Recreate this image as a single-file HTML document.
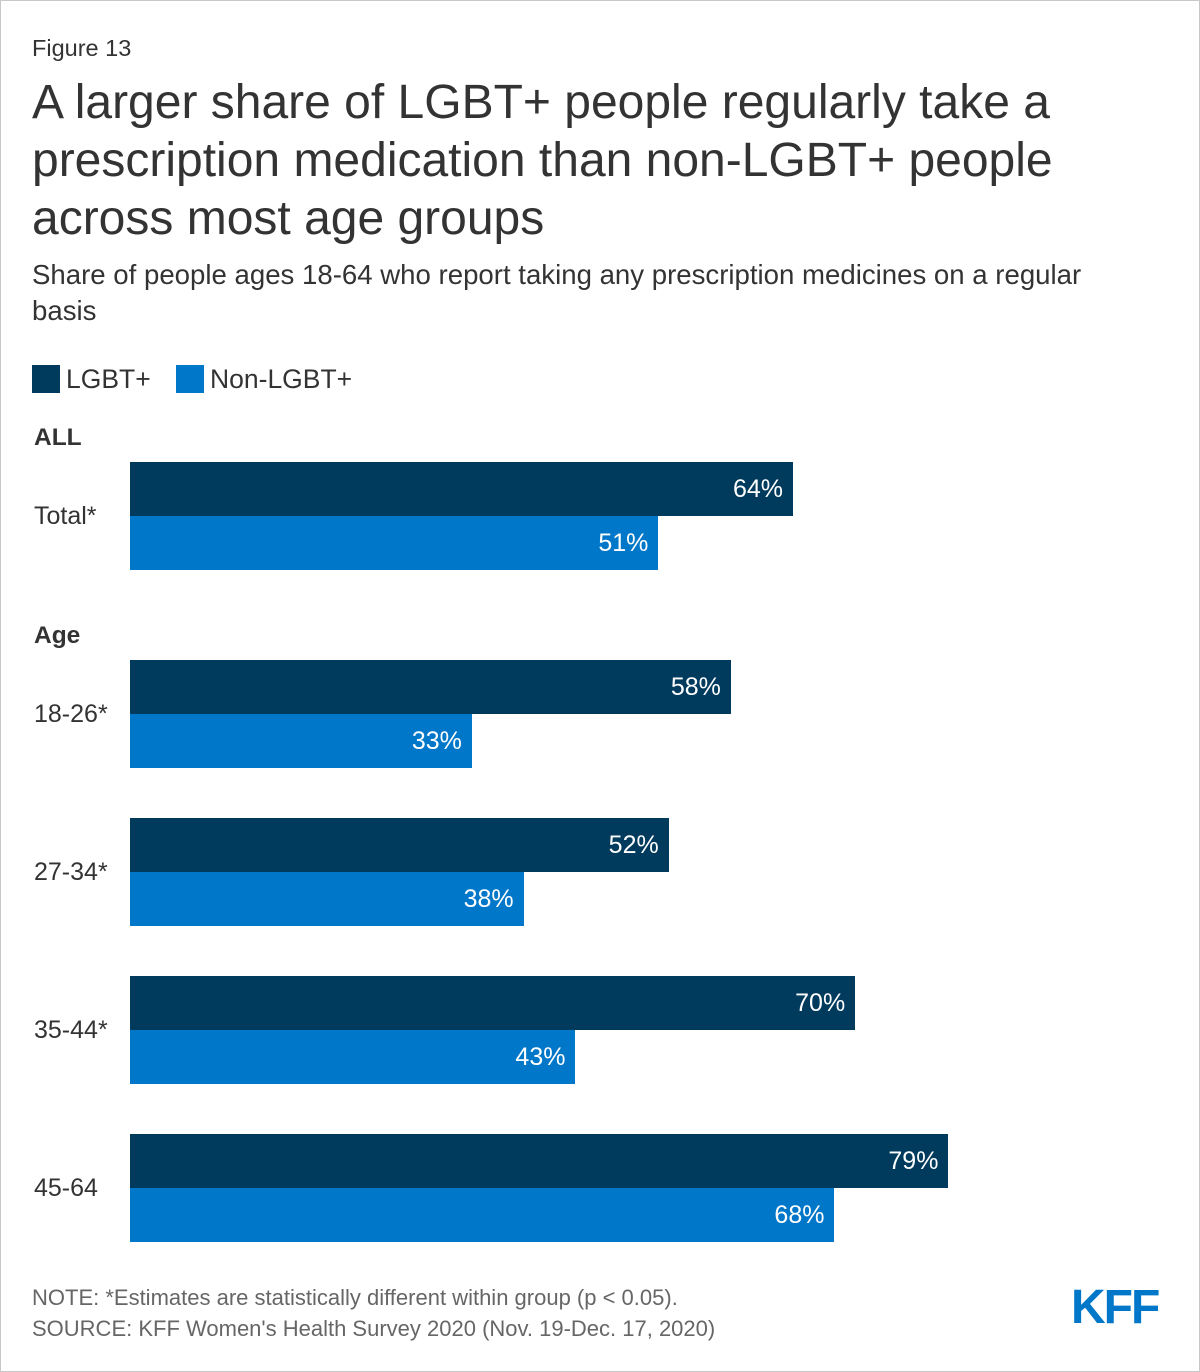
<!DOCTYPE html>
<html><head><meta charset="utf-8"><style>
body{margin:0;background:#fff;font-family:"Liberation Sans",Arial,sans-serif;}
#wrap{position:relative;width:1198px;height:1370px;border:1px solid #c8c8c8;overflow:hidden;}
.t{position:absolute;color:#333;}
</style></head><body>
<div id="wrap">
<div class="t" style="left:31px;top:34px;font-size:23.5px;">Figure 13</div>
<div class="t" style="left:31px;top:73px;font-size:48px;line-height:58px;color:#333;width:1120px;">A larger share of LGBT+ people regularly take a prescription medication than non-LGBT+ people across most age groups</div>
<div class="t" style="left:31px;top:256px;font-size:27.6px;line-height:36px;width:1110px;">Share of people ages 18-64 who report taking any prescription medicines on a regular basis</div>
<div style="position:absolute;left:31px;top:364px;width:28px;height:28px;background:#003a5d"></div>
<div class="t" style="left:65px;top:363px;font-size:26.5px;">LGBT+</div>
<div style="position:absolute;left:175px;top:364px;width:28px;height:28px;background:#0077c8"></div>
<div class="t" style="left:209px;top:363px;font-size:26.5px;">Non-LGBT+</div>
<div class="t" style="left:33px;top:423px;font-size:24.5px;font-weight:bold;">ALL</div>
<div class="t" style="left:33px;top:621px;font-size:24.5px;font-weight:bold;">Age</div>
<div id="chart"></div>
<div class="t" style="left:31px;top:1281px;font-size:22px;color:#666;line-height:31px;">NOTE: *Estimates are statistically different within group (p &lt; 0.05).<br>SOURCE: KFF Women's Health Survey 2020 (Nov. 19-Dec. 17, 2020)</div>
<div class="t" style="left:1070px;top:1279px;font-size:48px;font-weight:bold;color:#0077c8;letter-spacing:-2px;">KFF</div>
</div>
<script>
const categories=["Total*","18-26*","27-34*","35-44*","45-64"];
const lgbtValues=[64,58,52,70,79];
const nonLgbtValues=[51,33,38,43,68];
const groupTops=[461,659,817,975,1133];
const x0=129, scale=10.36, bh=54;
const xs=v=>v*scale;
const chart=document.getElementById('chart');
function bar(top,v,color,name){
  const d=document.createElement('div');
  
  
  d.style.cssText=`position:absolute;left:${x0}px;top:${top}px;width:${xs(v)}px;height:${bh}px;background:${color};`;
  const l=document.createElement('div');
  
  
  l.textContent=v+'%';
  l.style.cssText=`position:absolute;right:10px;top:0;line-height:${bh}px;color:#fff;font-size:25px;`;
  d.appendChild(l);
  chart.appendChild(d);
}
categories.forEach((c,i)=>{
  const t=groupTops[i];
  bar(t,lgbtValues[i],'#003a5d','bar-lgbt-'+i);
  bar(t+bh,nonLgbtValues[i],'#0077c8','bar-non-lgbt-'+i);
  const lab=document.createElement('div');
  
  
  lab.className='t';
  lab.textContent=c;
  lab.style.cssText=`left:33px;top:${t+bh-15}px;font-size:25px;line-height:30px;`;
  chart.appendChild(lab);
});
</script>
</body></html>
